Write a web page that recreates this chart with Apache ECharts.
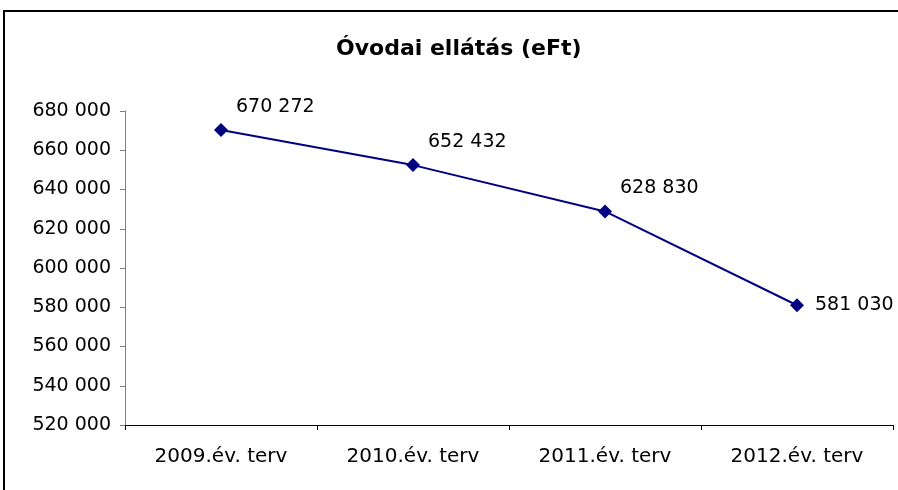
<!DOCTYPE html>
<html>
<head>
<meta charset="UTF-8">
<title>Óvodai ellátás</title>
<script type="text/javascript" src="https://cdn.jsdelivr.net/npm/echarts@6/dist/echarts.min.js"></script>
<style>
  html, body { margin: 0; padding: 0; background: #fff; }
</style>
</head>
<body>
<div id="main" style="width:898px;height:490px"></div>
<script type="text/javascript">
// adatok
var years = ['2009.év. terv', '2010.év. terv', '2011.év. terv', '2012.év. terv'];
var values = [670272, 652432, 628830, 581030];
var yMin = 520000, yMax = 680000, yStep = 20000;

function fmt(v) {
  return String(v).replace(/\B(?=(\d{3})+(?!\d))/g, ' ');
}

var myChart = echarts.init(document.getElementById('main'));

var points = values.map(function (v, i) {
  var last = i === values.length - 1;
  return {
    value: v,
    label: last
      ? { position: 'right', distance: 11, offset: [0, 0] }
      : { position: 'right', distance: 8, offset: [0, -23] }
  };
});

var option = {
  animation: false,
  backgroundColor: '#fff',
  title: {
    text: 'Óvodai ellátás (eFt)',
    left: 331,
    top: 33,
    textStyle: { fontFamily: 'DejaVu Sans', fontWeight: 'bold', fontSize: 22, color: '#000' }
  },
  graphic: [{
    type: 'rect',
    shape: { x: 4, y: 11, width: 1000, height: 1000 },
    style: { fill: 'none', stroke: '#000', lineWidth: 2 },
    silent: true
  }],
  grid: { left: 125, right: 5, top: 111, bottom: 65 },
  xAxis: {
    type: 'category',
    data: years,
    boundaryGap: true,
    axisLine: { lineStyle: { color: '#000', width: 1 } },
    axisTick: { show: true, length: 5, lineStyle: { color: '#000' } },
    axisLabel: { margin: 22, fontFamily: 'DejaVu Sans', fontSize: 20, color: '#000' }
  },
  yAxis: {
    type: 'value',
    min: yMin,
    max: yMax,
    interval: yStep,
    splitLine: { show: false },
    axisLine: { show: true, lineStyle: { color: '#808080', width: 1 } },
    axisTick: { show: true, length: 5, lineStyle: { color: '#808080' } },
    axisLabel: {
      margin: 14,
      fontFamily: 'DejaVu Sans',
      fontSize: 19,
      color: '#000',
      formatter: fmt
    }
  },
  series: [{
    type: 'line',
    data: points,
    symbol: 'diamond',
    symbolSize: 14,
    lineStyle: { color: '#000080', width: 2 },
    itemStyle: { color: '#000080' },
    label: {
      show: true,
      fontFamily: 'DejaVu Sans',
      fontSize: 19,
      color: '#000',
      formatter: function (p) { return fmt(p.value); }
    }
  }]
};
myChart.setOption(option);
</script>
</body>
</html>
